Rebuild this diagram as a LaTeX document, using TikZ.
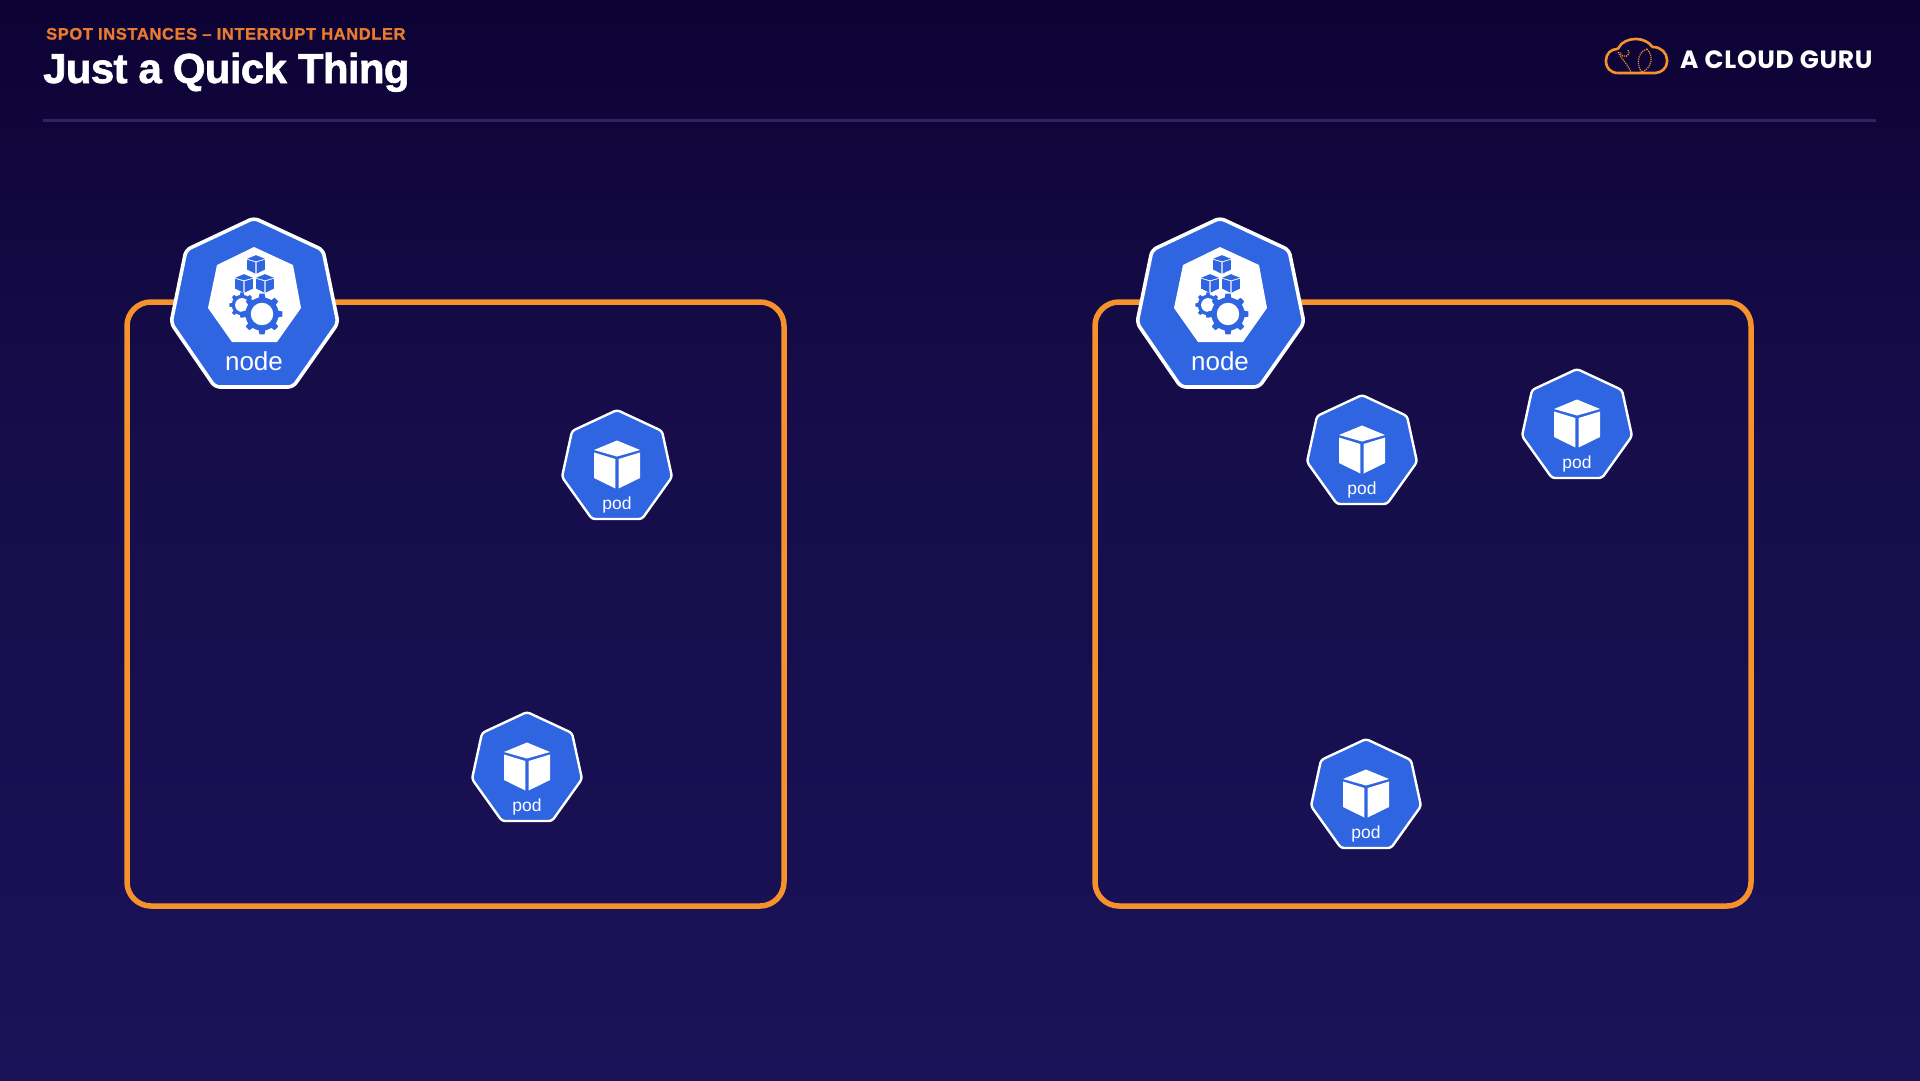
\documentclass[tikz,border=0pt]{standalone}
\usepackage{fontspec}
\setmainfont{Liberation Sans}
\newfontfamily\logofont[LetterSpace=2.8]{Poppins}
\newfontfamily\subfont[LetterSpace=3.7,FakeBold=1.2]{Liberation Sans Bold}
\newfontfamily\titlefont[LetterSpace=-1.6,FakeBold=1.5]{Liberation Sans Bold}
\definecolor{bgtop}{HTML}{0D0234}
\definecolor{bgmid}{HTML}{150C48}
\definecolor{bgbot}{HTML}{1B1259}
\definecolor{kblue}{HTML}{2F65E0}
\definecolor{acgorange}{HTML}{F5922B}
\definecolor{suborange}{HTML}{EA7A2E}
\definecolor{rulecol}{HTML}{2E2560}
\pgfdeclareverticalshading{bgfade}{100bp}{color(0bp)=(bgbot); color(25bp)=(bgbot); color(58bp)=(bgmid); color(75bp)=(bgtop); color(100bp)=(bgtop)}
\tikzset{
  x=1pt,y=-1pt,
  panel/.style={draw=acgorange,line width=5.5pt,rounded corners=24pt},
  hepta/.style={fill=kblue,draw=white,line join=round},
  nodelabel/.style={text=white,inner sep=0pt,font=\fontsize{26}{26}\selectfont},
  podlabel/.style={text=white,inner sep=0pt,font=\fontsize{17.5}{18}\selectfont},
  cubepic/.pic={
    \fill[pic actions] (0,-23)--(23,-13.5)--(0,-7)--(-23,-13.5)--cycle;
    \fill[pic actions] (-23,-11)--(-1.6,-4.5)--(-1.6,25)--(-23,14.5)--cycle;
    \fill[pic actions] (23,-11)--(1.6,-4.5)--(1.6,25)--(23,14.5)--cycle;
  },
  podpic/.pic={
    \draw[hepta,line width=2.4pt,rounded corners=3pt] (0,0)--(45,21)--(55,67)--(25,109)--(-25,109)--(-55,67)--(-45,21)--cycle;
    \pic[white] at (0,53.5) {cubepic};
  },
  gearpic/.pic={
    \foreach \a in {0,45,...,315}{
      \fill[kblue,rotate=\a] (-0.15,-1.2)--(0.15,-1.2)--(0.22,-0.8)--(-0.22,-0.8)--cycle;
    }
    \fill[kblue] (0,0) circle (0.98);
    \fill[white] (0,0) circle (0.66);
  },
  nodepic/.pic={
    \draw[hepta,line width=3.6pt,rounded corners=5pt] (0,0)--(69,32)--(84,105)--(39,169)--(-39,169)--(-83,105)--(-68,32)--cycle;
    \fill[white] (0,29)--(39,47)--(47,90)--(23,124)--(-22,124)--(-46,90)--(-37,47)--cycle;
    \pic[kblue,scale=0.385] at (2,46) {cubepic};
    \pic[kblue,scale=0.385] at (-10,65) {cubepic};
    \pic[kblue,scale=0.385] at (11,65) {cubepic};
    \pic[scale=10.5] at (-12,87) {gearpic};
    \pic[scale=17] at (8,96) {gearpic};
  }
}
\begin{document}
\begin{tikzpicture}
\useasboundingbox (0,0) rectangle (1920,1080);
\shade[shading=bgfade] (0,0) rectangle (1920,1080);
\draw[rulecol,line width=3pt] (43,120)--(1876,120);
\node[anchor=base west,inner sep=0pt,text=suborange] (subtitle) at (46,39.5) {\subfont\fontsize{16.5}{18}\selectfont SPOT INSTANCES – INTERRUPT HANDLER};
\node[anchor=base west,inner sep=0pt,text=white] (title) at (43,83) {\titlefont\fontsize{42}{46}\selectfont Just a Quick Thing};
\node[anchor=west,inner sep=0pt,text=white] (brand) at (1680,60) {\logofont\fontsize{25}{28}\selectfont\bfseries A CLOUD GURU};
% logo
\draw[acgorange,line width=2.6pt,line join=round,rounded corners=1pt]
  (1619,73) .. controls (1610,73) and (1606,67) .. (1606,61)
  .. controls (1606,54) and (1611,49) .. (1618,49)
  .. controls (1621,42) and (1629,39) .. (1636,39)
  .. controls (1643,39) and (1650,43) .. (1652,47)
  .. controls (1661,47) and (1667,53) .. (1667,61)
  .. controls (1667,68) and (1661,73) .. (1654,73) -- cycle;
\draw[acgorange,line width=1.2pt,densely dotted] (1618,52) .. controls (1622,60) and (1626,62) .. (1631,72);
\draw[acgorange,line width=1.2pt,densely dotted] (1628,50) .. controls (1632,56) and (1622,60) .. (1620,52);
\draw[acgorange,line width=1.2pt,densely dotted] (1647,49) .. controls (1636,52) and (1637,68) .. (1642,72);
\draw[acgorange,line width=1.2pt,densely dotted] (1647,49) .. controls (1654,56) and (1652,68) .. (1642,72);
% panels
\draw[panel] (127,302) rectangle (784,906);
\draw[panel] (1095,302) rectangle (1751,906);
% left
\pic at (254,218) {nodepic};
\node[nodelabel] (nodeA) at (254,361) {node};
\pic at (617,410) {podpic};
\node[podlabel] (podA) at (617,505) {pod};
\pic at (527,712) {podpic};
\node[podlabel] (podB) at (527,807) {pod};
% right
\pic at (1220,218) {nodepic};
\node[nodelabel] (nodeB) at (1220,361) {node};
\pic at (1362,395) {podpic};
\node[podlabel] (podC) at (1362,490) {pod};
\pic at (1577,369) {podpic};
\node[podlabel] (podD) at (1577,464) {pod};
\pic at (1366,739) {podpic};
\node[podlabel] (podE) at (1366,834) {pod};
\end{tikzpicture}
\end{document}
